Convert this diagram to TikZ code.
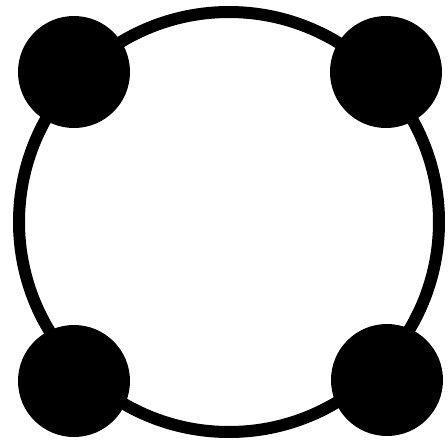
\documentclass[tikz,border=0pt]{standalone}
\begin{document}
\begin{tikzpicture}[x=1pt,y=-1pt,
  ring/.style={circle,draw=black,line width=12pt,inner sep=0pt,minimum size=420pt},
  dot/.style={circle,fill=black,inner sep=0pt,minimum size=112pt}]
\useasboundingbox (0,0) rectangle (448,445);
\node[ring] (ring) at (229,222) {};
\node[dot] (tl) at (74,72) {};
\node[dot] (tr) at (386,72) {};
\node[dot] (bl) at (74,381) {};
\node[dot] (br) at (387,380) {};
\end{tikzpicture}
\end{document}
